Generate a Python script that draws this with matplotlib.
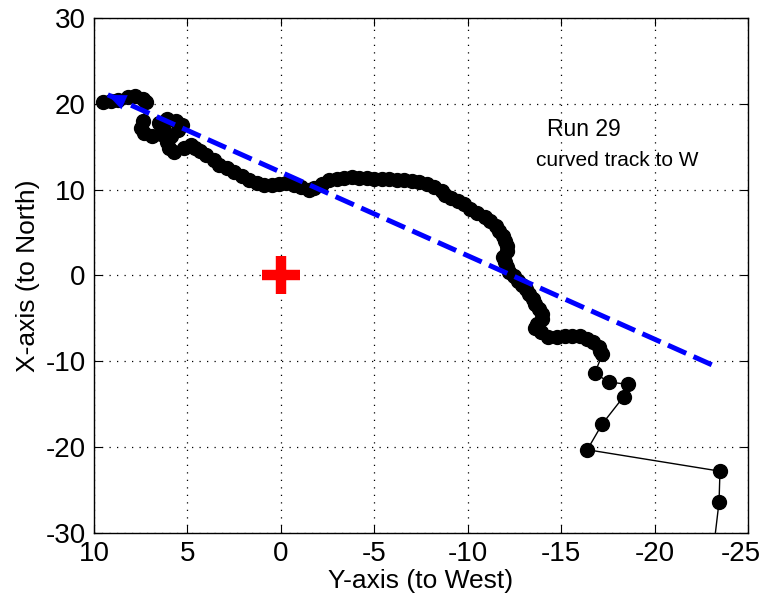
import matplotlib
matplotlib.use("Agg")
import matplotlib.pyplot as plt
import matplotlib.transforms as mtransforms

plt.rcParams['font.family'] = ['Liberation Sans', 'DejaVu Sans']
plt.rcParams['axes.unicode_minus'] = False

# track positions: y (to West), x (to North)
track_y = [9.5, 9.1, 8.7, 8.2, 7.8, 7.4, 7.2, 7.4, 7.5, 7.3, 6.9, 6.4, 6.3, 6.5, 6.1,
           5.6, 5.3, 5.5, 5.9, 6.1, 6.0, 5.7, 5.2, 4.8, 4.6, 4.3, 4.0, 3.6, 3.3, 2.9,
           2.5, 2.1, 1.7, 1.3, 0.9, 0.5, 0.1, -0.3, -0.7, -1.1, -1.5, -1.8, -2.2, -2.6,
           -3.0, -3.4, -3.8, -4.2, -4.6, -5.0, -5.4, -5.8, -6.2, -6.6, -7.0, -7.4, -7.8,
           -8.2, -8.6, -8.8, -9.1, -9.5, -9.8, -10.1, -10.5, -10.9, -11.2, -11.5, -11.7,
           -11.9, -12.0, -12.1, -12.1, -11.9, -12.0, -12.1, -12.2, -12.5, -12.7, -12.9,
           -13.1, -13.3, -13.5, -13.6, -13.8, -14.0, -14.0, -13.7, -13.6, -13.9, -14.3,
           -14.8, -15.2, -15.6, -16.0, -16.4, -16.7, -17.0, -17.1, -17.2, -16.8, -17.55,
           -18.6, -18.35, -17.2, -16.4, -23.5, -23.45, -23.2]
track_x = [20.2, 20.3, 20.5, 20.8, 20.9, 20.6, 20.2, 18.0, 17.2, 16.6, 16.2, 16.5, 17.2,
           17.8, 18.2, 18.0, 17.5, 17.0, 16.3, 15.5, 14.9, 14.4, 14.8, 15.2, 14.9, 14.5,
           14.0, 13.5, 12.9, 12.5, 12.1, 11.6, 11.1, 10.8, 10.6, 10.5, 10.7, 10.8, 10.6,
           10.3, 10.0, 10.2, 10.7, 11.1, 11.3, 11.4, 11.5, 11.4, 11.4, 11.3, 11.3, 11.2,
           11.1, 11.1, 11.0, 10.9, 10.7, 10.3, 9.9, 9.4, 9.0, 8.7, 8.3, 7.8, 7.3, 6.8,
           6.3, 5.8, 5.2, 4.6, 4.0, 3.4, 2.8, 2.2, 1.6, 1.0, 0.4, -0.1, -0.6, -1.1, -1.6,
           -2.1, -2.7, -3.3, -3.9, -4.5, -5.1, -5.6, -6.1, -6.6, -7.2, -7.2, -7.0, -7.0,
           -7.1, -7.4, -7.7, -8.3, -8.8, -9.2, -11.4, -12.4, -12.7, -14.1, -17.3, -20.3,
           -22.8, -26.4, -31.0]

# fitted straight track, drawn from its far end towards the arrow tip
fit_y = [-23.06, 9.26]
fit_x = [-10.4, 21.05]

x_ticks = [10, 5, 0, -5, -10, -15, -20, -25]
y_ticks = [-30, -20, -10, 0, 10, 20, 30]

fig = plt.figure(figsize=(7.66, 6.0), dpi=100)
ax = fig.add_axes([0.1227, 0.1117, 0.8538, 0.8583])

ax.plot(track_y, track_x, '-', color='black', linewidth=1.0,
        marker='o', markersize=10, markerfacecolor='black', markeredgecolor='black',
        zorder=3)

ax.plot(fit_y, fit_x, color='blue', linewidth=3.6, linestyle=(0, (4.0, 1.6)), zorder=4)
ax.annotate('', xy=(fit_y[1], fit_x[1]), xytext=(fit_y[1] - 1.3, fit_x[1] - 1.26),
            arrowprops=dict(arrowstyle='-|>,head_length=1.3,head_width=0.55',
                            color='blue', linewidth=0.1, shrinkA=0, shrinkB=0),
            zorder=5)

# origin
ax.plot([0], [0], marker='+', color='red', markersize=27, markeredgewidth=7.5,
        zorder=6)

ax.text(-16.2, 17.0, 'Run 29', fontsize=16.5, ha='center', va='center')
ax.text(-18.0, 13.4, 'curved track to W', fontsize=15, ha='center', va='center')

ax.set_xlim(10, -25)
ax.set_ylim(-30, 30)
ax.set_xticks(x_ticks)
ax.set_yticks(y_ticks)
ax.grid(True, color='black', linestyle=(0, (1, 5)), linewidth=0.9)
ax.tick_params(direction='in', length=6, width=0.8, top=True, right=True,
               labelsize=20, pad=6)
for s in ax.spines.values():
    s.set_linewidth(1.0)

# keep the last x tick label inside the figure
last = ax.get_xticklabels()[-1]
last.set_transform(last.get_transform() +
                   mtransforms.ScaledTranslation(-7 / 100, 0, fig.dpi_scale_trans))

ax.set_xlabel('Y-axis (to West)', fontsize=19, labelpad=1)
ax.set_ylabel('X-axis (to North)', fontsize=19, labelpad=4)

fig.savefig('out.png', dpi=100)
